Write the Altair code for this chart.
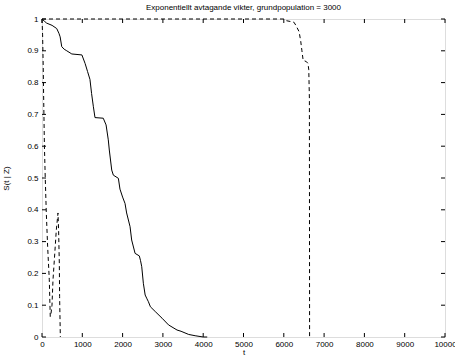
import altair as alt
import pandas as pd

# Solid curve
solid_t = [0, 60, 116, 250, 365, 420, 450, 490, 550, 615, 740, 990, 1070, 1130, 1190, 1230, 1275, 1315,
           1520, 1590, 1645, 1670, 1730, 1770, 1895, 1935, 2000, 2060, 2100, 2185, 2225, 2310, 2415, 2445,
           2475, 2515, 2560, 2605, 2640, 2690, 2810, 2980, 3140, 3350, 3450, 3640, 3800, 4000, 4100]
solid_s = [1.0, 0.993, 0.987, 0.98, 0.97, 0.955, 0.944, 0.913, 0.905, 0.90, 0.89, 0.887, 0.86, 0.835, 0.81,
           0.766, 0.724, 0.69, 0.688, 0.667, 0.62, 0.588, 0.525, 0.509, 0.499, 0.465, 0.44, 0.42, 0.39, 0.347,
           0.305, 0.263, 0.255, 0.24, 0.221, 0.169, 0.132, 0.12, 0.111, 0.095, 0.08, 0.059, 0.038, 0.022,
           0.018, 0.008, 0.004, 0.0, 0.0]

# Dashed curve, left zigzag
dash1_t = [0, 15, 30, 45, 60, 82, 107, 140, 181, 205, 220, 248, 273, 305, 355, 397, 412, 430, 437, 455]
dash1_s = [1.0, 0.95, 0.85, 0.72, 0.6, 0.494, 0.39, 0.284, 0.18, 0.064, 0.07, 0.10, 0.18, 0.24, 0.336,
           0.39, 0.336, 0.23, 0.127, 0.0]

# Dashed curve, along the top
dash2_t = [0, 6000, 6050, 6250, 6300, 6380, 6420, 6450, 6480, 6560, 6600, 6620, 6635, 6640]
dash2_s = [1.0, 1.0, 0.995, 0.99, 0.98, 0.96, 0.93, 0.90, 0.87, 0.866, 0.86, 0.84, 0.75, 0.0]

x_ticks = [0, 1000, 2000, 3000, 4000, 5000, 6000, 7000, 8000, 9000, 10000]
y_ticks = [0, 0.1, 0.2, 0.3, 0.4, 0.5, 0.6, 0.7, 0.8, 0.9, 1.0]

W, H = 403, 318
FONT = "Liberation Sans"

solid_df = pd.DataFrame({"t": solid_t, "s": solid_s})
dash_df = pd.concat([
    pd.DataFrame({"t": dash1_t, "s": dash1_s, "k": "a"}),
    pd.DataFrame({"t": dash2_t, "s": dash2_s, "k": "b"}),
])
xt_df = pd.DataFrame({"t": x_ticks})
yt_df = pd.DataFrame({"s": y_ticks})

xscale = alt.Scale(domain=[0, 10000], nice=False, zero=False)
yscale = alt.Scale(domain=[0, 1], nice=False, zero=False)

xaxis = alt.Axis(values=x_ticks, ticks=False, domain=False, grid=False, labelFont=FONT, labelFontSize=8,
                 labelPadding=3, titleFont=FONT, titleFontSize=8, titleFontWeight="normal", titlePadding=0,
                 labelColor="black", titleColor="black", format="d", labelFlush=False, labelOverlap=False)
yaxis = alt.Axis(values=y_ticks, ticks=False, domain=False, grid=False, labelFont=FONT, labelFontSize=8,
                 labelPadding=4, titleFont=FONT, titleFontSize=8, titleFontWeight="normal", titlePadding=16,
                 labelColor="black", titleColor="black",
                 labelExpr="datum.value == 0 ? '0' : datum.value == 1 ? '1' : format(datum.value, '.1f')",
                 labelFlush=False, labelOverlap=False)

X = alt.X("t:Q", scale=xscale, axis=xaxis, title="t")
Y = alt.Y("s:Q", scale=yscale, axis=yaxis, title="S(t | Z)")

solid = alt.Chart(solid_df).mark_line(color="black", strokeWidth=1).encode(x=X, y=Y)
dashed = alt.Chart(dash_df).mark_line(color="black", strokeWidth=1, strokeDash=[4, 3]).encode(
    x=X, y=Y, detail="k:N")

tl = 4
xb = alt.Chart(xt_df).mark_rule(color="black", strokeWidth=1).encode(
    x=X, y=alt.value(H - tl), y2=alt.value(H))
xtp = alt.Chart(xt_df).mark_rule(color="black", strokeWidth=1).encode(
    x=X, y=alt.value(0), y2=alt.value(tl))
yl = alt.Chart(yt_df).mark_rule(color="black", strokeWidth=1).encode(
    y=Y, x=alt.value(0), x2=alt.value(tl))
yr = alt.Chart(yt_df).mark_rule(color="black", strokeWidth=1).encode(
    y=Y, x=alt.value(W - tl), x2=alt.value(W))

chart = alt.layer(solid, dashed, xb, xtp, yl, yr).properties(
    width=W, height=H,
    title=alt.TitleParams("Exponentiellt avtagande vikter, grundpopulation = 3000", font=FONT, fontSize=8,
                          fontWeight="normal", color="black", offset=3),
    autosize=alt.AutoSizeParams(type="none"),
    padding={"left": 42, "top": 19, "right": 10, "bottom": 25},
).configure_view(stroke="black", strokeWidth=1).configure(background="white")

chart.save("out.html", embed_options={"renderer": "svg", "actions": False})
